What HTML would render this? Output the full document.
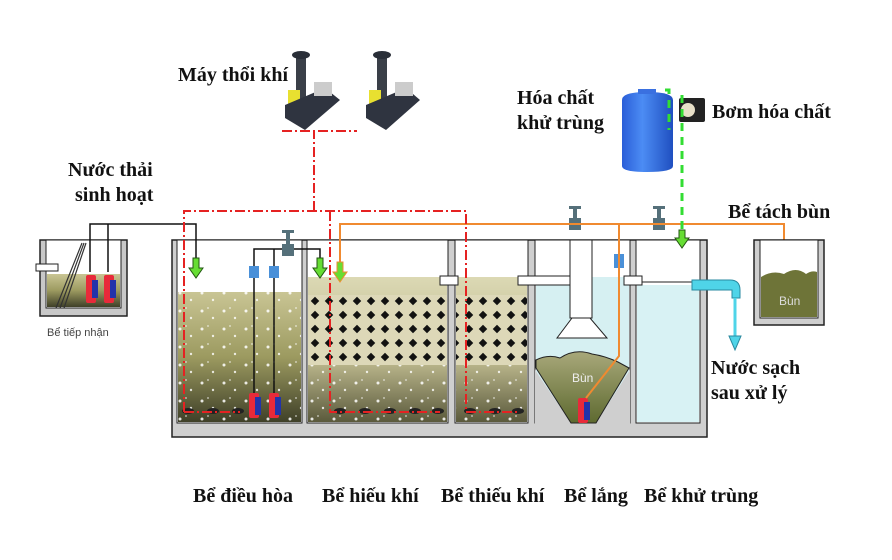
<!DOCTYPE html>
<html><head><meta charset="utf-8"><style>
html,body{margin:0;padding:0;background:#fff;}
svg{display:block}
text{font-family:"Liberation Serif",serif;font-weight:bold;fill:#111;}
</style></head><body>
<svg width="892" height="560" viewBox="0 0 892 560" xmlns="http://www.w3.org/2000/svg">
<defs>
<linearGradient id="dh" x1="0" y1="0" x2="0" y2="1"><stop offset="0" stop-color="#c9c594"/><stop offset="0.5" stop-color="#9c9a60"/><stop offset="1" stop-color="#3f4028"/></linearGradient>
<linearGradient id="hk" x1="0" y1="0" x2="0" y2="1"><stop offset="0" stop-color="#dcd9b4"/><stop offset="0.6" stop-color="#b8b48a"/><stop offset="1" stop-color="#5b5a3c"/></linearGradient>
<linearGradient id="bun" x1="0" y1="0" x2="0" y2="1"><stop offset="0" stop-color="#a8a87a"/><stop offset="1" stop-color="#5e6a30"/></linearGradient>
<linearGradient id="blue" x1="0" y1="0" x2="1" y2="0"><stop offset="0" stop-color="#2a5ed8"/><stop offset="0.4" stop-color="#4c8cf4"/><stop offset="1" stop-color="#1f4fc0"/></linearGradient>
<pattern id="lat" width="14" height="14" patternUnits="userSpaceOnUse">
<rect width="14" height="14" fill="#ddd8b8"/>
<rect x="4" y="4" width="6" height="6" fill="#111" transform="rotate(45 7 7)"/>
</pattern>
<pattern id="bub" width="22" height="18" patternUnits="userSpaceOnUse">
<circle cx="4" cy="5" r="1.5" fill="#fff" opacity="0.85"/><circle cx="15" cy="12" r="1.2" fill="#fff" opacity="0.8"/><circle cx="10" cy="2" r="0.9" fill="#fff" opacity="0.7"/>
</pattern>
</defs>

<!-- Bể tiếp nhận -->
<rect x="40" y="240" width="87" height="76" fill="#c8c8c8" stroke="#222" stroke-width="1.5"/>
<rect x="46" y="240" width="75" height="68" fill="#fff" stroke="#222" stroke-width="1"/>
<rect x="47" y="274" width="73" height="33" fill="url(#dh)"/>
<rect x="36" y="264" width="22" height="7" fill="#fff" stroke="#222"/>
<path d="M56 308 L82 243 M60 308 L84 243 M64 308 L86 243" stroke="#333" stroke-width="1.2"/>
<text x="47" y="336" style="font-family:'Liberation Sans',sans-serif;font-weight:normal;font-size:11px;fill:#444">Bể tiếp nhận</text>

<!-- Main tank -->
<rect x="172" y="240" width="535" height="197" fill="#cfcfcf" stroke="#222" stroke-width="1.5"/>
<rect x="177" y="240" width="125" height="183" fill="#fff" stroke="#222"/>
<rect x="178" y="292" width="123" height="130" fill="url(#dh)"/>
<rect x="178" y="292" width="123" height="130" fill="url(#bub)"/>
<rect x="307" y="240" width="141" height="183" fill="#fff" stroke="#222"/>
<rect x="308" y="277" width="139" height="145" fill="url(#hk)"/>
<rect x="308" y="295" width="139" height="70" fill="url(#lat)"/>
<rect x="308" y="365" width="139" height="57" fill="url(#bub)"/>
<rect x="455" y="240" width="73" height="183" fill="#fff" stroke="#222"/>
<rect x="456" y="277" width="71" height="145" fill="url(#hk)"/>
<rect x="456" y="295" width="71" height="70" fill="url(#lat)"/>
<rect x="456" y="365" width="71" height="57" fill="url(#bub)"/>
<rect x="535" y="240" width="95" height="183" fill="#fff" stroke="#222"/>
<rect x="536" y="277" width="93" height="145" fill="#d6f0f2"/>
<path d="M535 370 L571 423 L596 423 L630 370 L630 432 L535 432Z" fill="#cfcfcf"/>
<path d="M536 368 L536 360 Q548 354 560 358 Q575 348 592 354 Q605 356 618 362 L629 368 L596 423 L571 423Z" fill="url(#bun)" stroke="#222"/>
<text x="572" y="382" style="font-family:'Liberation Sans',sans-serif;font-weight:normal;font-size:12px;fill:#eee">Bùn</text>
<rect x="636" y="240" width="64" height="183" fill="#fff" stroke="#222"/>
<rect x="637" y="285" width="62" height="137" fill="#d8f2f4"/>

<rect x="440" y="276" width="18" height="9" fill="#fff" stroke="#222"/>
<rect x="518" y="276" width="68" height="9" fill="#fff" stroke="#222"/>
<rect x="570" y="240" width="22" height="78" fill="#fff" stroke="#222"/>
<path d="M572 318 L590 318 L607 338 L557 338Z" fill="#fff" stroke="#222"/>
<rect x="624" y="276" width="18" height="9" fill="#fff" stroke="#222"/>
<line x1="642" y1="282" x2="692" y2="282" stroke="#222"/>
<path d="M692 280 L730 280 Q740 280 740 290 L740 298 L732 298 L732 290 L692 290Z" fill="#4fd4e8" stroke="#2a8aa0"/>
<line x1="735" y1="298" x2="735" y2="338" stroke="#4fd4e8" stroke-width="3"/>
<path d="M729 336 L741 336 L735 350Z" fill="#4fd4e8" stroke="#2a8aa0"/>

<g fill="#222">
<ellipse cx="188" cy="411" rx="6" ry="3"/><ellipse cx="213" cy="411" rx="6" ry="3"/><ellipse cx="238" cy="411" rx="6" ry="3"/>
<ellipse cx="340" cy="411" rx="6" ry="3"/><ellipse cx="365" cy="411" rx="6" ry="3"/><ellipse cx="390" cy="411" rx="6" ry="3"/><ellipse cx="415" cy="411" rx="6" ry="3"/><ellipse cx="438" cy="411" rx="6" ry="3"/>
<ellipse cx="470" cy="411" rx="6" ry="3"/><ellipse cx="495" cy="411" rx="6" ry="3"/><ellipse cx="518" cy="411" rx="6" ry="3"/>
</g>

<g stroke="#111" stroke-width="1.5" fill="none">
<path d="M90 272 L90 224 L196 224 L196 258"/>
<path d="M108 272 L108 224"/>
<path d="M254 395 L254 249 L320 249 L320 258"/>
<path d="M274 395 L274 249"/>
</g>
<g>
<rect x="86" y="275" width="10" height="28" rx="2" fill="#e82a3a"/><rect x="92" y="280" width="6" height="18" fill="#2233aa"/>
<rect x="104" y="275" width="10" height="28" rx="2" fill="#e82a3a"/><rect x="110" y="280" width="6" height="18" fill="#2233aa"/>
<rect x="249" y="393" width="10" height="25" rx="2" fill="#e82a3a"/><rect x="255" y="397" width="6" height="18" fill="#2233aa"/>
<rect x="269" y="393" width="10" height="25" rx="2" fill="#e82a3a"/><rect x="275" y="397" width="6" height="18" fill="#2233aa"/>
<rect x="578" y="398" width="10" height="25" rx="2" fill="#e82a3a"/><rect x="584" y="402" width="6" height="18" fill="#2233aa"/>
</g>
<g fill="#4a90d8">
<rect x="249" y="266" width="10" height="12"/><rect x="269" y="266" width="10" height="12"/><rect x="614" y="254" width="10" height="14"/>
</g>
<g fill="#55707a">
<path d="M282 244 L294 244 L294 256 L282 256Z"/><rect x="286" y="232" width="4" height="12"/><rect x="282" y="230" width="12" height="3"/>
<path d="M569 218 L581 218 L581 230 L569 230Z"/><rect x="573" y="208" width="4" height="10"/><rect x="569" y="206" width="12" height="3"/>
<path d="M653 218 L665 218 L665 230 L653 230Z"/><rect x="657" y="208" width="4" height="10"/><rect x="653" y="206" width="12" height="3"/>
</g>

<g stroke="#f08a30" stroke-width="2" fill="none">
<path d="M340 262 L340 224 L784 224 L784 252"/>
<path d="M619 224 L619 356 L586 398"/>
</g>
<g fill="#66dd33" stroke="#225511">
<path d="M193 258 L199 258 L199 268 L203 268 L196 278 L189 268 L193 268Z"/>
<path d="M317 258 L323 258 L323 268 L327 268 L320 278 L313 268 L317 268Z"/>
<path d="M337 262 L343 262 L343 272 L347 272 L340 282 L333 272 L337 272Z" stroke="#f08a30"/>
<path d="M781 252 L787 252 L787 262 L791 262 L784 272 L777 262 L781 262Z" stroke="#f08a30" fill="#99cc55"/>
<path d="M679 230 L685 230 L685 238 L689 238 L682 248 L675 238 L679 238Z"/>
</g>

<rect x="754" y="240" width="70" height="85" fill="#cfcfcf" stroke="#222" stroke-width="1.5"/>
<rect x="760" y="240" width="58" height="78" fill="#fff" stroke="#222"/>
<path d="M761 277 Q772 270 784 274 Q796 266 806 274 Q812 270 817 272 L817 317 L761 317Z" fill="#6e7438"/>
<text x="779" y="305" style="font-family:'Liberation Sans',sans-serif;font-weight:normal;font-size:12px;fill:#ddd">Bùn</text>

<g stroke="#e52222" stroke-width="2" fill="none" stroke-dasharray="10,3,2,3">
<path d="M184 412 L184 211 L466 211 L466 412"/>
<path d="M330 211 L330 412 L440 412"/>
<path d="M314 211 L314 131"/>
<path d="M282 131 L357 131"/>
<path d="M184 412 L240 412"/>
<path d="M466 412 L520 412"/>
</g>

<g>
<rect x="296" y="54" width="10" height="55" fill="#3a3f48"/><ellipse cx="301" cy="55" rx="9" ry="4" fill="#2a2f38"/>
<rect x="288" y="90" width="12" height="18" fill="#e8e030"/>
<path d="M285 105 L325 88 L340 100 L305 130 L285 118Z" fill="#2f3440"/>
<rect x="314" y="82" width="18" height="14" fill="#ccc"/>
<rect x="377" y="54" width="10" height="55" fill="#3a3f48"/><ellipse cx="382" cy="55" rx="9" ry="4" fill="#2a2f38"/>
<rect x="369" y="90" width="12" height="18" fill="#e8e030"/>
<path d="M366 105 L406 88 L420 100 L386 130 L366 118Z" fill="#2f3440"/>
<rect x="395" y="82" width="18" height="14" fill="#ccc"/>
</g>

<path d="M622 100 Q622 92 647 92 Q673 92 673 100 L673 166 Q673 172 647 172 Q622 172 622 166Z" fill="url(#blue)"/>
<rect x="638" y="89" width="18" height="5" fill="#3a70e0"/>
<rect x="679" y="98" width="26" height="24" rx="2" fill="#222"/>
<circle cx="688" cy="110" r="7" fill="#e8e0c8"/>
<g stroke="#33dd33" stroke-width="3" stroke-dasharray="8,6" fill="none">
<path d="M682 95 L682 230"/>
<path d="M665 90 L669 90 L669 130"/>
</g>

<g style="font-size:20px">
<text x="178" y="81">Máy thổi khí</text>
<text x="68" y="176">Nước thải</text>
<text x="75" y="201">sinh hoạt</text>
<text x="517" y="104">Hóa chất</text>
<text x="517" y="129">khử trùng</text>
<text x="712" y="118">Bơm hóa chất</text>
<text x="728" y="218">Bể tách bùn</text>
<text x="711" y="374">Nước sạch</text>
<text x="711" y="399">sau xử lý</text>
<text x="193" y="502">Bể điều hòa</text>
<text x="322" y="502">Bể hiếu khí</text>
<text x="441" y="502">Bể thiếu khí</text>
<text x="564" y="502">Bể lắng</text>
<text x="644" y="502">Bể khử trùng</text>
</g>
</svg>
</body></html>
